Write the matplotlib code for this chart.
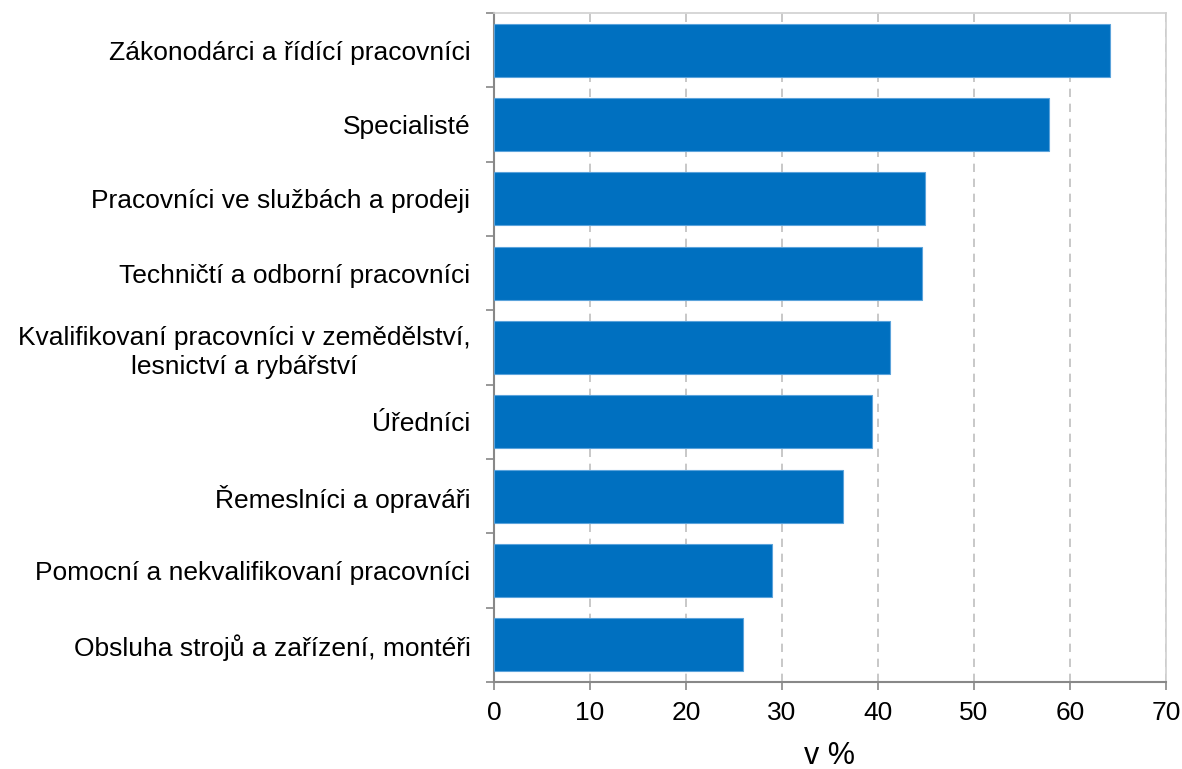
import matplotlib
matplotlib.use("Agg")
import matplotlib.pyplot as plt
import numpy as np

plt.rcParams['font.family'] = ['Liberation Sans', 'DejaVu Sans']

categories = [
    "Zákonodárci a řídící pracovníci",
    "Specialisté",
    "Pracovníci ve službách a prodeji",
    "Techničtí a odborní pracovníci",
    "Kvalifikovaní pracovníci v zemědělství,\nlesnictví a rybářství",
    "Úředníci",
    "Řemeslníci a opraváři",
    "Pomocní a nekvalifikovaní pracovníci",
    "Obsluha strojů a zařízení, montéři",
]
values = [64.2, 57.8, 44.9, 44.6, 41.3, 39.4, 36.4, 29.0, 25.9]
xticks = [0, 10, 20, 30, 40, 50, 60, 70]
xlabel = "v %"

fig = plt.figure(figsize=(11.82, 7.69), dpi=100)
ax = fig.add_axes([494/1182, 1-682/769, (1166-494)/1182, (682-13)/769])

n = len(categories)
ypos = np.arange(n)
ax.barh(ypos, values, height=0.71, color='#0070C0', edgecolor='#5BA3DB', linewidth=0.8, zorder=3)
ax.set_ylim(n - 0.5, -0.5)
ax.set_xlim(0, 70)

ax.set_xticks(xticks)
ax.set_xticklabels([str(t) for t in xticks], fontsize=19)
ax.set_yticks(ypos)
ax.set_yticklabels(categories, fontsize=19, linespacing=1.25)
for lab in ax.get_yticklabels():
    lab.set_multialignment('center')
ax.set_yticks(np.arange(n + 1) - 0.5, minor=True)
ax.tick_params(axis='y', which='major', length=0, pad=17)
ax.tick_params(axis='y', which='minor', length=6, width=1.2, color='#888888', direction='out')
ax.tick_params(axis='x', which='major', length=6, width=1.2, color='#888888', direction='out', pad=8)

ax.xaxis.grid(True, linestyle=(0, (5, 4)), color='#BFBFBF', linewidth=1.2, zorder=0)
ax.set_axisbelow(True)

for s in ['left', 'bottom']:
    ax.spines[s].set_color('#888888')
    ax.spines[s].set_linewidth(1.5)
for s in ['top', 'right']:
    ax.spines[s].set_color('#CFCFCF')
    ax.spines[s].set_linewidth(1.2)

ax.set_xlabel(xlabel, fontsize=22, labelpad=11)

fig.savefig("out.png", dpi=100)
